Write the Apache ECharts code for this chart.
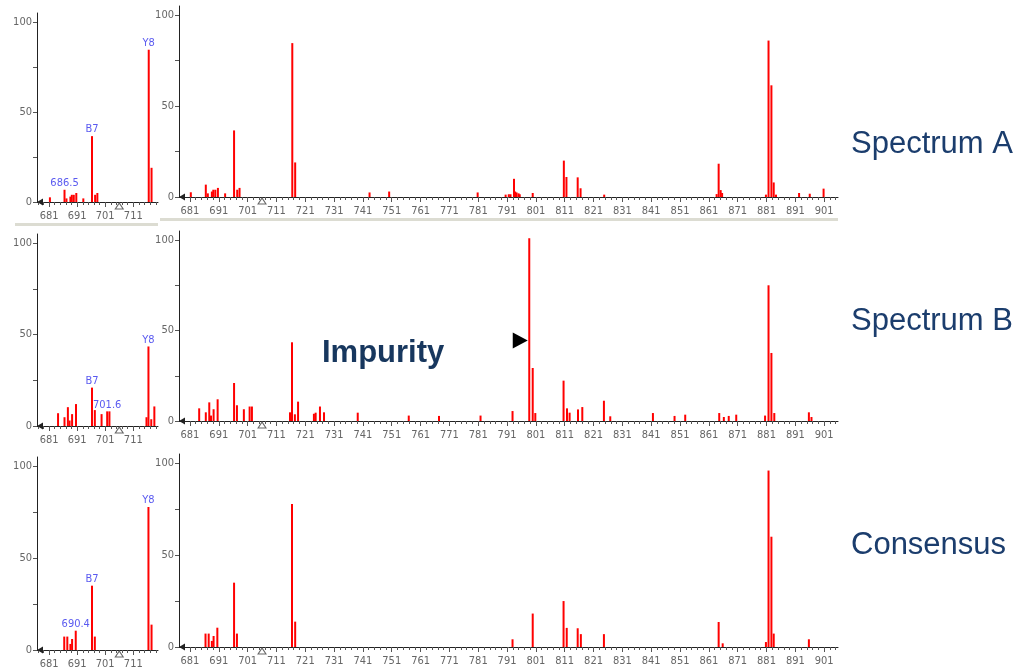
<!DOCTYPE html>
<html><head><meta charset="utf-8">
<script src="https://cdn.jsdelivr.net/npm/echarts@6/dist/echarts.min.js"></script>
<style>html,body{margin:0;padding:0;background:#fff}#c{width:1034px;height:670px}</style>
</head><body><div id="c"></div>
<script>
// ---- data (m/z, relative intensity) ----
const specA_mz  = [681.3, 686.5, 687.2, 688.6, 689.1, 689.8, 690.7, 693.2, 696.3, 697.4, 698.2, 716.5, 717.5, 743.3, 750.1, 780.8, 790.5, 791.6, 792.2, 793.4, 793.8, 794.3, 795.0, 795.4, 799.9, 810.7, 811.6, 815.5, 816.5, 824.7, 863.7, 864.4, 865.1, 865.6, 880.8, 881.7, 882.7, 883.5, 884.3, 892.3, 896.0, 900.8];
const specA_int = [2.6, 6.8, 2, 3, 4, 4, 5, 2, 36.6, 4, 5, 84.6, 19, 2.5, 3, 2.5, 1.3, 1.5, 1.5, 10, 3, 2.5, 2, 1.5, 2.2, 20, 11, 10.8, 4.8, 1.3, 1.6, 18.3, 3.8, 2.2, 1.3, 86, 61.4, 8, 1.3, 2.2, 1.8, 4.6];

const specB_mz  = [684.2, 686.5, 687.7, 688.3, 689.2, 690.6, 696.3, 697.3, 699.7, 701.7, 702.5, 715.7, 716.4, 717.4, 718.5, 724.0, 724.6, 726.1, 727.5, 739.2, 756.9, 767.4, 781.8, 792.9, 798.7, 799.9, 800.8, 810.6, 811.8, 812.7, 815.6, 817.1, 824.6, 826.8, 841.6, 849.1, 852.8, 864.6, 866.2, 867.9, 870.5, 880.5, 881.7, 882.7, 883.7, 895.7, 896.6];
const specB_int = [7, 4.8, 10.3, 3, 6.5, 12, 21, 8.7, 6.5, 8, 8, 4.8, 43.5, 3.7, 10.7, 4, 4.6, 8, 4.8, 4.6, 3, 2.8, 3, 5.5, 101, 29.3, 4.4, 22.3, 7, 4.6, 6.4, 7.7, 11.2, 2.6, 4.4, 2.8, 3.5, 4.4, 2.2, 2.8, 3.5, 3, 75, 37.6, 4.4, 4.8, 2.2];

const specC_mz  = [686.4, 687.5, 688.6, 689.2, 690.5, 696.3, 697.3, 716.4, 717.5, 792.9, 799.9, 810.6, 811.7, 815.5, 816.6, 824.6, 864.4, 865.8, 880.8, 881.7, 882.7, 883.5, 895.7];
const specC_int = [7.3, 7.3, 3.3, 6, 10.5, 35, 7.3, 77.8, 13.8, 4.2, 18.2, 25, 10.4, 10.2, 7, 7, 13.6, 2, 2.7, 96, 60, 7.3, 4.2];

// peak annotations (zoomed panels)
const annA_mz = [686.5, 696.3, 716.5]; const annA_text = ['686.5', 'B7', 'Y8'];
const annB_mz = [696.3, 701.7, 716.4]; const annB_text = ['B7', '701.6', 'Y8'];
const annC_mz = [690.5, 696.3, 716.4]; const annC_text = ['690.4', 'B7', 'Y8'];

const precursorMz = 706.0;
const impurityMz = 798.7;
const impurityArrowLevel = 44.5;

// ticks
const xLabelsSmall = [681, 691, 701, 711];
const xLabelsBig = [681, 691, 701, 711, 721, 731, 741, 751, 761, 771, 781, 791, 801, 811, 821, 831, 841, 851, 861, 871, 881, 891, 901];
const yLabels = [0, 50, 100];
const yTicks = [0, 25, 50, 75, 100];
const rowNames = ['Spectrum A', 'Spectrum B', 'Consensus'];

// ---- layout ----
const tickFont = "'Liberation Sans Narrow','DejaVu Sans Condensed',sans-serif";
const smallRange = [676.7, 719.8];
const bigRange = [677.2, 905.8];
const grids = [
  {left: 37,  top: 13,  width: 121, height: 189},
  {left: 179, top: 6,   width: 659, height: 191},
  {left: 37,  top: 234, width: 121, height: 192},
  {left: 179, top: 231, width: 659, height: 190},
  {left: 37,  top: 457, width: 121, height: 193},
  {left: 179, top: 454, width: 659, height: 193}
];

const specs = [
  {mz: specA_mz, it: specA_int, ann: [annA_mz, annA_text]},
  {mz: specB_mz, it: specB_int, ann: [annB_mz, annB_text]},
  {mz: specC_mz, it: specC_int, ann: [annC_mz, annC_text]}
];

const xAxis = [], yAxis = [], series = [];
grids.forEach((g, gi) => {
  const small = gi % 2 === 0;
  const range = small ? smallRange : bigRange;
  const labels = small ? xLabelsSmall : xLabelsBig;
  const minor = [];
  for (let v = 677; v <= range[1]; v += 2) minor.push(v);
  xAxis.push({
    type: 'value', gridIndex: gi, min: range[0], max: range[1], position: 'bottom',
    axisLine: {show: true, onZero: false, symbol: ['triangle', 'none'], symbolSize: [7, 6], symbolOffset: [3, 0], lineStyle: {color: '#222', width: 1}},
    axisTick: {show: true, customValues: labels, length: 5, lineStyle: {color: '#555'}},
    axisLabel: {customValues: labels, color: '#666', fontSize: 11, margin: 9, fontFamily: tickFont},
    splitLine: {show: false}
  });
  xAxis.push({
    type: 'value', gridIndex: gi, min: range[0], max: range[1], position: 'bottom',
    axisLine: {show: false},
    axisTick: {show: true, customValues: minor, length: 3, lineStyle: {color: '#555'}},
    axisLabel: {show: false}, splitLine: {show: false}
  });
  yAxis.push({
    type: 'value', gridIndex: gi, min: 0, max: 105,
    axisLine: {show: true, lineStyle: {color: '#222'}},
    axisTick: {show: true, customValues: yTicks, length: 4, lineStyle: {color: '#555'}},
    axisLabel: {customValues: yLabels, color: '#666', fontSize: 11, margin: 5, fontFamily: tickFont},
    splitLine: {show: false}
  });

  const sp = specs[Math.floor(gi / 2)];
  const data = sp.mz.map((m, i) => {
    const item = {value: [m, sp.it[i]]};
    if (small) {
      const k = sp.ann[0].indexOf(m);
      if (k >= 0) {
        item.label = {show: true, position: 'top', distance: 1, formatter: sp.ann[1][k],
          color: '#5a5af0', fontSize: 11, fontFamily: tickFont};
      }
    }
    return item;
  });
  const mpData = [{coord: [precursorMz, 0], symbol: 'triangle', symbolSize: [8, 6], symbolOffset: [0, 4],
    itemStyle: {color: '#fff', borderColor: '#666', borderWidth: 1}}];
  if (gi === 3) {
    mpData.push({coord: [impurityMz, impurityArrowLevel], symbol: 'triangle', symbolRotate: -90,
      symbolSize: [16, 15], symbolOffset: [-9, 0], itemStyle: {color: '#000'}});
  }
  series.push({
    type: 'bar', xAxisIndex: gi * 2, yAxisIndex: gi, data: data, barWidth: 2, clip: true,
    itemStyle: {color: '#ff0000'}, silent: true,
    markPoint: {silent: true, label: {show: false}, data: mpData}
  });
});

const textColor = '#1b3d6d';
const labelFont = "31px 'Liberation Sans', Arial, sans-serif";
const graphic = [
  {type: 'rect', shape: {x: 15, y: 223, width: 143, height: 3}, style: {fill: '#dcdcd2'}},
  {type: 'rect', shape: {x: 160, y: 218, width: 678, height: 3}, style: {fill: '#dcdcd2'}},
  {type: 'text', x: 851, y: 144.7, style: {text: rowNames[0], font: labelFont, fill: textColor, verticalAlign: 'middle'}},
  {type: 'text', x: 851, y: 321.2, style: {text: rowNames[1], font: labelFont, fill: textColor, verticalAlign: 'middle'}},
  {type: 'text', x: 851, y: 545.5, style: {text: rowNames[2], font: labelFont, fill: textColor, verticalAlign: 'middle'}},
  {type: 'text', x: 322, y: 353.5, style: {text: 'Impurity', font: "bold 31px 'Liberation Sans', Arial, sans-serif", fill: '#17375e', verticalAlign: 'middle'}}
];

const chart = echarts.init(document.getElementById('c'), null, {renderer: 'canvas'});
chart.setOption({
  animation: false,
  backgroundColor: '#fff',
  grid: grids,
  xAxis: xAxis,
  yAxis: yAxis,
  series: series,
  graphic: graphic
});
</script>
</body></html>
